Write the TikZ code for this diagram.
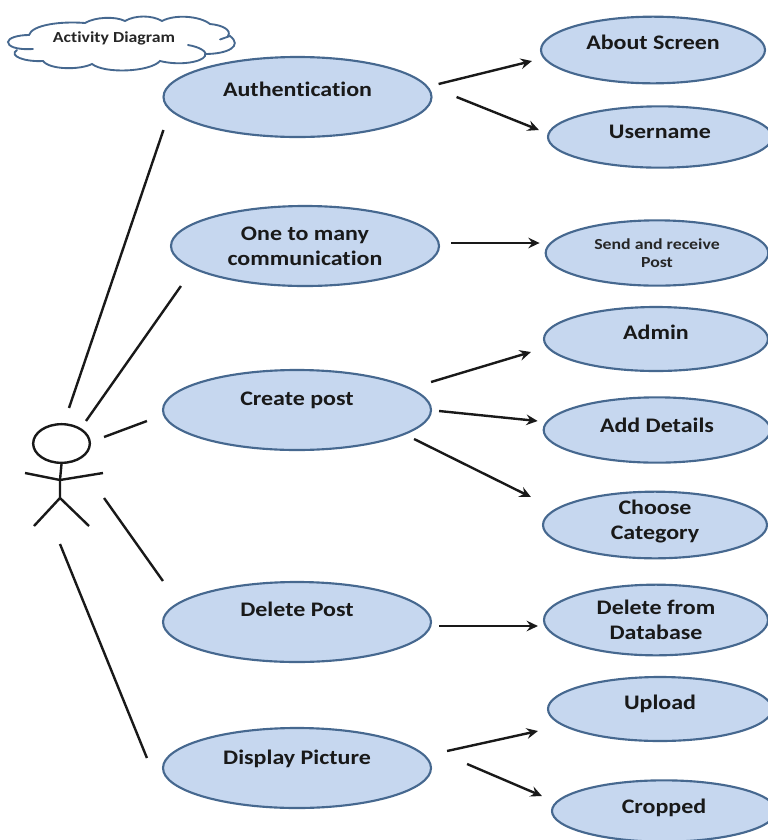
\documentclass[tikz,border=0pt]{standalone}
\usepackage{fontspec}
\setmainfont{Carlito}[FakeStretch=1.16,Ligatures=NoCommon]
\usetikzlibrary{arrows.meta}
\usetikzlibrary{shapes.geometric}
\definecolor{ucfill}{HTML}{C6D7EF}
\definecolor{ucline}{HTML}{46688F}
\tikzset{every picture/.style={line width=0.75pt}}
\tikzset{
	usecase/.style={ellipse,draw=ucline,fill=ucfill,line width=1.6pt,inner sep=0pt},
	usecase big/.style={usecase,minimum width=201pt,minimum height=60pt},
	uclabel/.style={align=center,text=black!90,font=\bfseries\fontsize{15.5}{18.75}\selectfont},
	uclabel small/.style={align=center,text=black!85,font=\bfseries\fontsize{11.5}{13.5}\selectfont},
	assoc/.style={line width=1.8pt,black!90},
	include/.style={line width=1.8pt,black!90,-{Stealth[length=8.5pt,width=8pt,inset=3pt]}},
	stick/.style={line width=1.8pt,black!90},
	cloudline/.style={draw=ucline,line width=1.4pt,line cap=round}
}

\begin{document}
\begin{tikzpicture}[x=0.75pt,y=0.75pt,yscale=-1,xscale=1]
	\useasboundingbox (0,0) rectangle (768,840);

	%Cloud
	\draw [cloudline] (33,49) .. controls (15,50) and (8,46) .. (8,42) .. controls (8,38) and (18,35) .. (29,35) .. controls (32,25) and (60,21) .. (85,23) .. controls (95,17) and (115,16) .. (125,21) .. controls (135,15) and (152,15) .. (162,21) .. controls (175,14) and (200,16) .. (210,24) .. controls (222,25) and (232,30) .. (228,36) ;
	\draw [cloudline] (220,39.5) -- (230,36) .. controls (243,46) and (228,54) .. (205,54) ;
	\draw [cloudline] (188,45) .. controls (200,47) and (208,52) .. (205,56) .. controls (202,62) and (180,66) .. (160,61) .. controls (150,72) and (105,74) .. (92,64) .. controls (80,70) and (50,70) .. (43,61) .. controls (25,62) and (8,56) .. (17,50) ;
	\node [uclabel small] (cloudtext) at (114,38) {Activity Diagram};

	%Use cases, left column
	\node [usecase big,label={[uclabel,yshift=6pt]center:Authentication}] (auth) at (297.5,97) {};
	\node [usecase big,label={[uclabel]center:One to many\\communication}] (many) at (305,246) {};
	\node [usecase big,label={[uclabel,yshift=7.5pt]center:Create post}] (create) at (297,410) {};
	\node [usecase big,label={[uclabel,yshift=9.75pt]center:Delete Post}] (delete) at (297,622) {};
	\node [usecase big,label={[uclabel,yshift=6.75pt]center:Display Picture}] (display) at (297,768) {};

	%Use cases, right column
	\node [usecase,minimum width=168pt,minimum height=50pt,label={[uclabel,yshift=6pt]center:About Screen}] (about) at (653,50) {};
	\node [usecase,minimum width=168pt,minimum height=46pt,label={[uclabel,yshift=3.75pt]center:Username}] (username) at (660,137) {};
	\node [usecase,minimum width=167pt,minimum height=49pt,label={[uclabel small]center:Send and receive\\Post}] (send) at (657,253) {};
	\node [usecase,minimum width=168pt,minimum height=48pt,label={[uclabel,yshift=5.25pt]center:Admin}] (admin) at (656,339) {};
	\node [usecase,minimum width=170pt,minimum height=49pt,label={[uclabel,yshift=3.75pt]center:Add Details}] (details) at (657,430) {};
	\node [usecase,minimum width=168pt,minimum height=50pt,label={[uclabel,yshift=2.5pt]center:Choose\\Category}] (category) at (655,525) {};
	\node [usecase,minimum width=168pt,minimum height=53pt,label={[uclabel]center:Delete from\\Database}] (database) at (656,620) {};
	\node [usecase,minimum width=168pt,minimum height=48pt,label={[uclabel,yshift=3.75pt]center:Upload}] (upload) at (660,709) {};
	\node [usecase,minimum width=168pt,minimum height=46pt,label={[uclabel,yshift=2.25pt]center:Cropped}] (cropped) at (664,811) {};

	%Actor
	\node [ellipse,draw,black!90,line width=1.8pt,minimum width=42.5pt,minimum height=29pt,inner sep=0pt] (actor) at (61.5,443.5) {};
	\coordinate (neck) at (60,480);
	\coordinate (hip) at (60,498);
	\draw [stick] (actor.south) -- (neck) -- (hip);
	\draw [stick] (25,473) -- (neck) -- (103,473);
	\draw [stick] (34,526) -- (hip) -- (89,526);

	%Straight Lines
	\draw [assoc] ([shift={(7.5,-15)}]actor.north) -- ([shift={(1,33)}]auth.west);
	\draw [assoc] ([shift={(24.5,-2)}]actor.north) -- ([shift={(11,40)}]many.west);
	\draw [assoc] ([shift={(13,-6.5)}]actor.east) -- ([shift={(-15,11)}]create.west);
	\draw [assoc] ([shift={(13,54.5)}]actor.east) -- ([shift={(1,-41)}]delete.west);
	\draw [assoc] ([shift={(-1.5,80)}]actor.south) -- ([shift={(-15,-10)}]display.west);

	%Arrows
	\draw [include] ([shift={(6,-13)}]auth.east) -- ([shift={(-8,11)}]about.west);
	\draw [include] ([shift={(24,0)}]auth.east) -- ([shift={(-8,-7)}]username.west);
	\draw [include] ([shift={(11,-3)}]many.east) -- ([shift={(-5,-10)}]send.west);
	\draw [include] ([shift={(-1,-28)}]create.east) -- ([shift={(-12,13)}]admin.west);
	\draw [include] ([shift={(7,1)}]create.east) -- ([shift={(-5,-9)}]details.west);
	\draw [include] ([shift={(-18,29)}]create.east) -- ([shift={(-11,-28)}]category.west);
	\draw [include] ([shift={(7,4)}]delete.east) -- ([shift={(-5,6)}]database.west);
	\draw [include] ([shift={(15,-17)}]display.east) -- ([shift={(-9,22)}]upload.west);
	\draw [include] ([shift={(35,-4)}]display.east) -- ([shift={(-9,-15)}]cropped.west);

\end{tikzpicture}
\end{document}
